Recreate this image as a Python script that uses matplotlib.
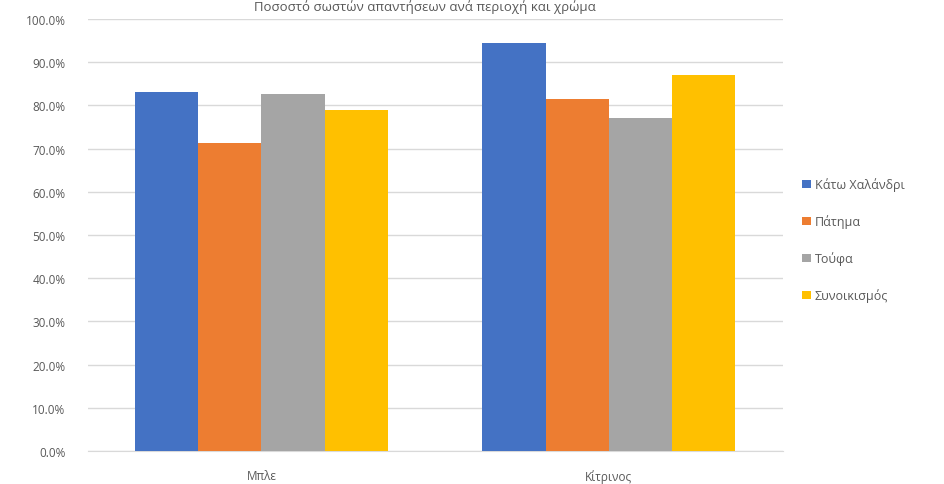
"""Grouped bar chart: percentage per colour and neighbourhood."""

import matplotlib.pyplot as plt
import numpy as np
from matplotlib.ticker import PercentFormatter

categories = ["Μπλε", "Κίτρινος"]
series_names = ["Κάτω Χαλάνδρι", "Πάτημα", "Τούφα", "Συνοικισμός"]
series_values = [
    [0.830, 0.945],
    [0.712, 0.815],
    [0.826, 0.770],
    [0.789, 0.871],
]
series_colors = ["#4472C4", "#ED7D31", "#A5A5A5", "#FFC000"]
title = "Ποσοστό σωστών απαντήσεων ανά περιοχή και χρώμα"

plt.rcParams["font.family"] = ["Open Sans", "DejaVu Sans"]
text_color = "#595959"

fig = plt.figure(figsize=(9.44, 4.85), dpi=100)
ax = fig.add_axes([0.093, 0.068, 0.736, 0.891])

x = np.arange(len(categories))
bar_w = 0.182
for i, (name, vals, col) in enumerate(zip(series_names, series_values, series_colors)):
    offs = (i - 1.5) * bar_w
    ax.bar(x + offs, vals, width=bar_w, color=col, label=name, zorder=3)

ax.set_xlim(-0.5, 1.5)
ax.set_ylim(0, 1.0)
ax.set_yticks(np.arange(0, 1.01, 0.1))
ax.yaxis.set_major_formatter(PercentFormatter(1.0, decimals=1))
ax.set_xticks(x)
ax.set_xticklabels(categories)
ax.grid(axis="y", color="#D9D9D9", linewidth=1, zorder=0)
for side in ["top", "right", "left"]:
    ax.spines[side].set_visible(False)
ax.spines["bottom"].set_color("#D9D9D9")
ax.tick_params(axis="both", length=0, colors=text_color, labelsize=8.5)
ax.tick_params(axis="y", pad=16)
ax.tick_params(axis="x", pad=13)

fig.text(0.45, 0.985, title, ha="center", va="center", fontsize=9.5, color=text_color)

handles, labels = ax.get_legend_handles_labels()
fig.legend(handles, labels, loc="upper left", bbox_to_anchor=(0.838, 0.655),
           frameon=False, fontsize=9, labelcolor=text_color,
           handlelength=0.7, handleheight=0.7, handletextpad=0.3,
           labelspacing=1.85)

fig.savefig("out.png", dpi=100)
